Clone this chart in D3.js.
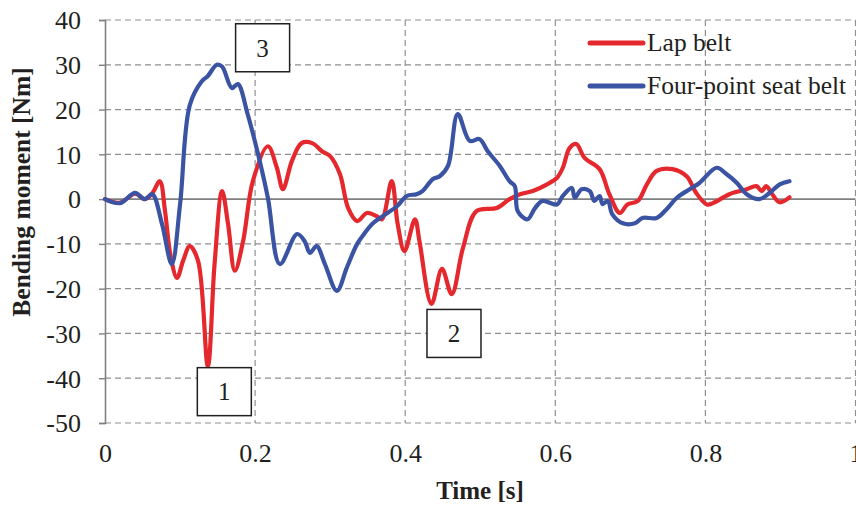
<!DOCTYPE html>
<meta charset="utf-8">
<body style="margin:0">
<script src="https://d3js.org/d3.v7.min.js"></script>
<script>

    // time axis [s]
    var xTicks = [0, 0.2, 0.4, 0.6, 0.8, 1];
    var yTicks = [40, 30, 20, 10, 0, -10, -20, -30, -40, -50];

    // Lap belt
    var lapT = [0, 0.020, 0.040, 0.053, 0.063, 0.073, 0.080, 0.087, 0.096, 0.104, 0.113, 0.124, 0.137, 0.146, 0.156, 0.164, 0.173, 0.184, 0.197, 0.217, 0.229, 0.237, 0.249, 0.262, 0.276, 0.289, 0.300, 0.313, 0.324, 0.336, 0.349, 0.362, 0.369, 0.382, 0.390, 0.399, 0.413, 0.419, 0.435, 0.449, 0.462, 0.477, 0.495, 0.522, 0.539, 0.553, 0.570, 0.589, 0.602, 0.610, 0.619, 0.628, 0.639, 0.659, 0.672, 0.686, 0.696, 0.710, 0.722, 0.735, 0.756, 0.775, 0.788, 0.802, 0.810, 0.832, 0.855, 0.868, 0.875, 0.881, 0.889, 0.899, 0.912];
    var lapM = [0, -0.8, 1.2, 0, 1.3, 4, -2.7, -12.3, -17.6, -13.8, -10.5, -13.8, -37.3, -14.5, 1.8, -5.6, -16, -9.4, 4, 11.8, 7, 2.2, 8.5, 12.5, 12.5, 10.7, 9.6, 5.6, -2, -4.9, -3.1, -3.8, -4.5, 4, -5.6, -11.6, -4.5, -9.4, -23.4, -15.6, -21.2, -10.9, -2.7, -2, 0, 1.1, 1.8, 3.3, 4.7, 7, 11.4, 12.3, 9.2, 6.7, 1.1, -3.1, -1.2, -0.4, 3.3, 6.3, 6.7, 5.1, 1.3, -1.2, -0.9, 1.1, 2.2, 2.9, 1.8, 2.9, 1.1, -0.7, 0.4];

    // Four-point seat belt
    var fourT = [0, 0.020, 0.040, 0.053, 0.063, 0.076, 0.089, 0.100, 0.113, 0.129, 0.137, 0.149, 0.156, 0.169, 0.177, 0.190, 0.204, 0.217, 0.233, 0.256, 0.266, 0.273, 0.282, 0.293, 0.309, 0.322, 0.336, 0.346, 0.357, 0.370, 0.389, 0.402, 0.415, 0.423, 0.437, 0.446, 0.457, 0.470, 0.486, 0.499, 0.510, 0.526, 0.539, 0.546, 0.550, 0.563, 0.573, 0.583, 0.602, 0.610, 0.622, 0.626, 0.635, 0.646, 0.652, 0.659, 0.663, 0.670, 0.676, 0.690, 0.706, 0.716, 0.735, 0.748, 0.762, 0.779, 0.792, 0.815, 0.828, 0.842, 0.855, 0.872, 0.885, 0.899, 0.912];
    var fourM = [0, -0.9, 1.4, 0, 1.1, -5.6, -14.5, -1.2, 21, 26.3, 27.5, 30, 29.6, 24.8, 25.7, 19, 10, 0.3, -14.5, -7.8, -9.4, -12, -10.5, -14.5, -20.5, -15.4, -10, -7.6, -5.4, -3.8, -1.6, 0.7, 1.1, 1.8, 4.5, 5.1, 7.4, 19, 13, 13.4, 10.7, 7.4, 4, 2.9, -2.7, -4.5, -2, -0.4, -1.2, 0.7, 2.5, 0.3, 2.2, 1.8, -0.4, 0.7, -1.1, -0.4, -3.4, -5.4, -5.4, -4.2, -4.2, -2.3, 0.3, 2.2, 3.6, 7, 5.6, 3.6, 1.1, 0, 1.3, 3.3, 4];

    var seriesNames = ["Lap belt", "Four-point seat belt"];
    var seriesColors = ["#e5282d", "#3a53a3"];

    // numbered call-outs (data coordinates of box centres)
    var noteLabels = ["1", "2", "3"];
    var noteT = [0.159, 0.465, 0.21];
    var noteM = [-43, -30, 33.8];

    var width = 856, height = 506;
    var margin = {top: 20, right: 0, bottom: 83, left: 105};
    var ink = "#231f20";

    var x = d3.scaleLinear().domain([0, 1]).range([margin.left, width - margin.right - 0.5]);
    var y = d3.scaleLinear().domain([-50, 40]).range([height - margin.bottom, margin.top]);

    var svg = d3.select("body").append("svg")
        .attr("width", width)
        .attr("height", height);

    // adds a serif text node
    function label(sel, size, bold) {
        return sel.style("font-family", "'Liberation Serif'")
            .style("font-size", size + "px")
            .style("font-weight", bold ? "bold" : "normal")
            .style("fill", ink);
    }

    // grid
    var grid = svg.append("g")
        .style("stroke", "#8f8f8f").style("stroke-width", 1.2).style("stroke-dasharray", "6,4");
    grid.selectAll(".h").data(yTicks.filter(function (d) { return d !== 0; }))
        .enter().append("line")
        .attr("x1", x(0)).attr("x2", x(1))
        .attr("y1", function (d) { return y(d); })
        .attr("y2", function (d) { return y(d); });
    grid.selectAll(".v").data(xTicks.filter(function (d) { return d !== 0; }))
        .enter().append("line")
        .attr("x1", function (d) { return x(d); })
        .attr("x2", function (d) { return x(d); })
        .attr("y1", y(40)).attr("y2", y(-50));

    // zero line
    svg.append("line")
        .attr("x1", x(0)).attr("x2", x(1))
        .attr("y1", y(0)).attr("y2", y(0))
        .style("stroke", "#808080").style("stroke-width", 1.6);

    // y axis
    var yAxis = d3.axisLeft(y).tickValues(yTicks).tickSize(6).tickPadding(18)
        .tickFormat(function (d) { return String(d); });
    var ya = svg.append("g").attr("transform", "translate(" + x(0) + ",0)").call(yAxis)
        .attr("font-family", null).attr("font-size", null);
    ya.select(".domain").style("stroke", "#808080").style("stroke-width", 1.6);
    ya.selectAll(".tick line").style("stroke", "#808080").style("stroke-width", 1.4);
    label(ya.selectAll("text"), 26).attr("dy", "0.34em");

    // x axis labels (no axis line)
    var xAxis = d3.axisBottom(x).tickValues(xTicks).tickSize(0).tickPadding(21)
        .tickFormat(function (d) { return d === 0 || d === 1 ? String(d) : d3.format(".1f")(d); });
    var xa = svg.append("g").attr("transform", "translate(0," + y(-50) + ")").call(xAxis)
        .attr("font-family", null).attr("font-size", null);
    xa.select(".domain").remove();
    label(xa.selectAll("text"), 26);

    // lines
    var line = d3.line()
        .x(function (d) { return x(d[0]); })
        .y(function (d) { return y(d[1]); })
        .curve(d3.curveCatmullRom.alpha(0.5));

    var lapData = lapT.map(function (t, i) { return [t, lapM[i]]; });
    var fourData = fourT.map(function (t, i) { return [t, fourM[i]]; });

    [lapData, fourData].forEach(function (data, i) {
        svg.append("path")
            .attr("d", line(data))
            .style("fill", "none")
            .style("stroke", seriesColors[i])
            .style("stroke-width", 4.2)
            .style("stroke-linejoin", "round")
            .style("stroke-linecap", "round");
    });

    // call-out boxes
    var notes = svg.selectAll(".note").data(noteLabels).enter().append("g")
        .attr("transform", function (d, i) { return "translate(" + x(noteT[i]) + "," + y(noteM[i]) + ")"; });
    notes.append("rect")
        .attr("x", -27).attr("y", -24).attr("width", 54).attr("height", 48)
        .style("fill", "#fff").style("stroke", ink).style("stroke-width", 1.5);
    label(notes.append("text"), 25)
        .attr("text-anchor", "middle").attr("dy", "0.35em")
        .text(function (d) { return d; });

    // legend
    var legend = svg.selectAll(".legend").data(seriesNames).enter().append("g")
        .attr("transform", function (d, i) { return "translate(590," + (43 + i * 43) + ")"; });
    legend.append("line")
        .attr("x1", 0).attr("x2", 53)
        .style("stroke", function (d, i) { return seriesColors[i]; })
        .style("stroke-width", 5).style("stroke-linecap", "round");
    label(legend.append("text"), 25.5)
        .attr("x", 57).attr("dy", "0.33em")
        .text(function (d) { return d; });

    // axis titles
    label(svg.append("text"), 25, true)
        .attr("x", 480).attr("y", 499)
        .attr("text-anchor", "middle")
        .text("Time [s]");
    label(svg.append("text"), 25.5, true)
        .attr("transform", "translate(30,192) rotate(-90)")
        .attr("text-anchor", "middle")
        .text("Bending moment [Nm]");

</script>
</body>
